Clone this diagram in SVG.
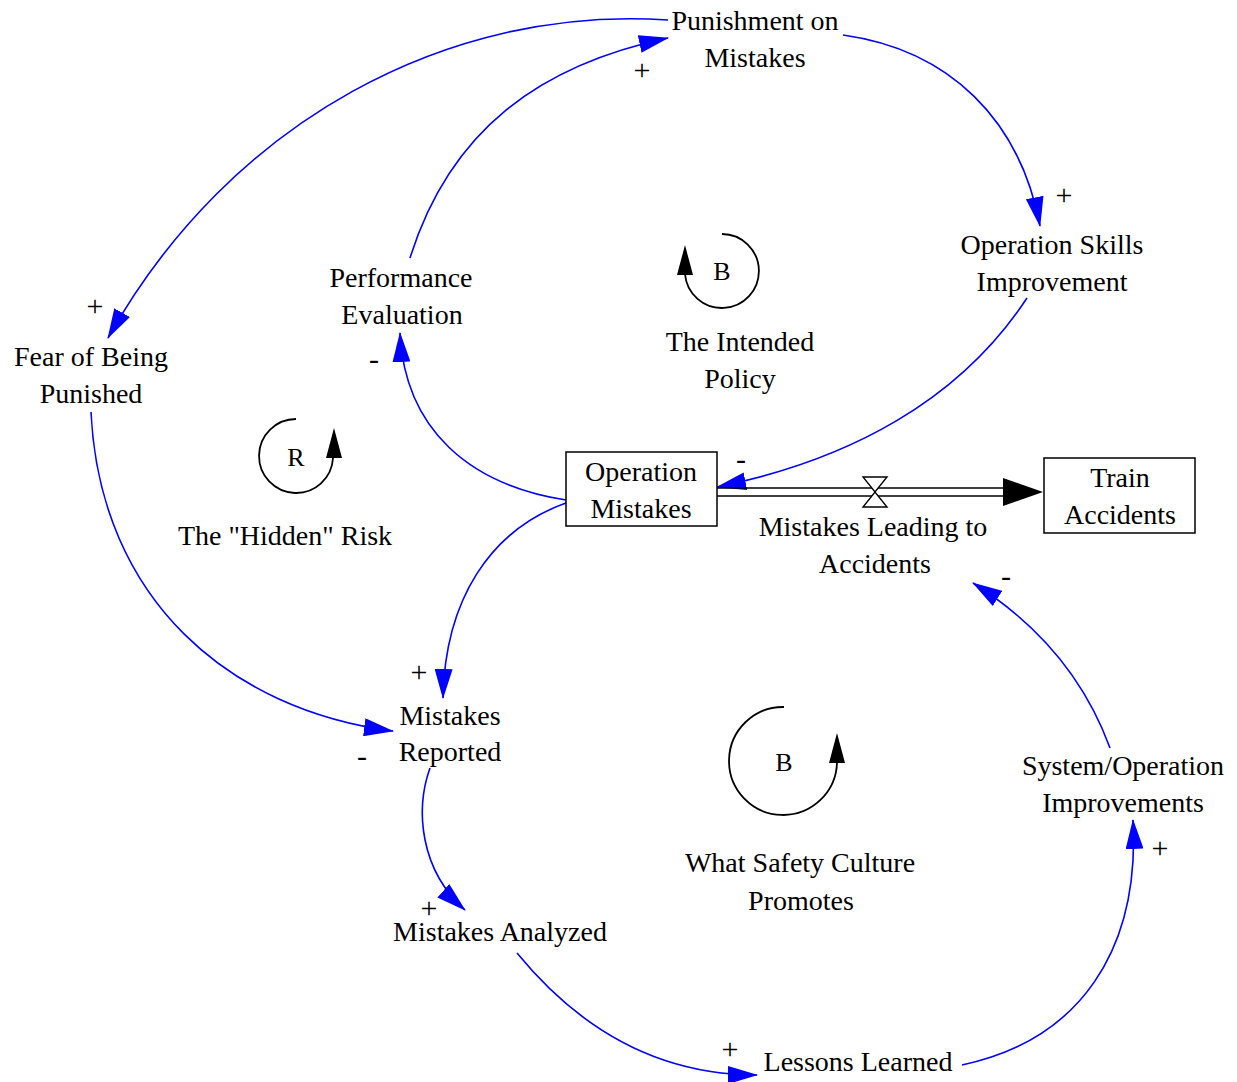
<svg xmlns="http://www.w3.org/2000/svg" width="1237" height="1082" viewBox="0 0 1237 1082" font-family="'Liberation Serif', 'Times New Roman', Tinos, 'DejaVu Serif', serif">
  <style>
    text { font-size: 28px; fill: #000; text-anchor: middle; }
    .pol { font-size: 30px; }
    .link { fill: none; stroke: #0000ff; stroke-width: 1.6; marker-end: url(#ah); }
    .loop { fill: none; stroke: #000; stroke-width: 1.8; }
    .box { fill: #fff; stroke: #000; stroke-width: 1.5; }
  </style>
  <defs>
    <marker id="ah" markerUnits="userSpaceOnUse" viewBox="0 0 30 18" refX="29" refY="9" markerWidth="30" markerHeight="18" orient="auto">
      <path d="M0,0 L30,9 L0,18 z" fill="#0000ff"/>
    </marker>
  </defs>
  <rect width="1237" height="1082" fill="#fff"/>

  <!-- causal links -->
  <g id="connectors">
    <path class="link" d="M668,20 C450,5 230,120 108,338"/>
    <path class="link" d="M410,258 C450,130 540,65 668,38"/>
    <path class="link" d="M843,35 C950,50 1020,120 1040,226"/>
    <path class="link" d="M1027,298 C960,400 850,460 717,487"/>
    <path class="link" d="M566,500 C470,485 405,430 400,333"/>
    <path class="link" d="M566,503 C490,530 445,600 443,698"/>
    <path class="link" d="M91,412 C100,600 230,710 393,731"/>
    <path class="link" d="M430,768 C415,810 420,870 465,910"/>
    <path class="link" d="M517,953 C580,1030 660,1075 757,1075"/>
    <path class="link" d="M962,1065 C1080,1040 1140,950 1133,820"/>
    <path class="link" d="M1110,748 C1085,680 1040,625 973,583"/>

    <!-- flow pipe with valve -->
    <g id="flow">
      <line x1="717" y1="488" x2="1006" y2="488" stroke="#000" stroke-width="1.6"/>
      <line x1="717" y1="496" x2="1006" y2="496" stroke="#000" stroke-width="1.6"/>
      <polygon points="1003,478 1043,492 1003,506" fill="#000"/>
      <polygon points="863,477 887,477 875,492" fill="#fff" stroke="#000" stroke-width="1.4"/>
      <polygon points="863,507 887,507 875,492" fill="#fff" stroke="#000" stroke-width="1.4"/>
    </g>
  </g>

  <!-- polarity signs -->
  <g id="polarities">
    <text class="pol" x="642" y="80">+</text>
    <text class="pol" x="1064" y="205">+</text>
    <text class="pol" x="95" y="316">+</text>
    <text class="pol" x="374" y="369">-</text>
    <text class="pol" x="741" y="469">-</text>
    <text class="pol" x="419" y="682">+</text>
    <text class="pol" x="362" y="766">-</text>
    <text class="pol" x="429" y="918">+</text>
    <text class="pol" x="730" y="1059">+</text>
    <text class="pol" x="1160" y="858">+</text>
    <text class="pol" x="1006" y="586">-</text>
  </g>

  <!-- variables -->
  <g id="punishment"><text x="755" y="30">Punishment on</text><text x="755" y="67">Mistakes</text></g>
  <g id="skills"><text x="1052" y="254">Operation Skills</text><text x="1052" y="291">Improvement</text></g>
  <g id="performance"><text x="401" y="287">Performance</text><text x="402" y="324">Evaluation</text></g>
  <g id="fear"><text x="91" y="366">Fear of Being</text><text x="91" y="403">Punished</text></g>
  <g id="op-mistakes">
    <rect class="box" x="566" y="452" width="151" height="74"/>
    <text x="641" y="481">Operation</text><text x="641" y="518">Mistakes</text>
  </g>
  <g id="train-accidents">
    <rect class="box" x="1044" y="458" width="151" height="75"/>
    <text x="1120" y="487">Train</text><text x="1120" y="524">Accidents</text>
  </g>
  <g id="leading"><text x="873" y="536">Mistakes Leading to</text><text x="875" y="573">Accidents</text></g>
  <g id="reported"><text x="450" y="725">Mistakes</text><text x="450" y="761">Reported</text></g>
  <g id="analyzed"><text x="500" y="941">Mistakes Analyzed</text></g>
  <g id="lessons"><text x="858" y="1071">Lessons Learned</text></g>
  <g id="improvements"><text x="1123" y="775">System/Operation</text><text x="1123" y="812">Improvements</text></g>

  <!-- loop markers -->
  <g id="loop-intended">
    <path class="loop" d="M722,234 A37,37 0 1,1 685,274"/>
    <polygon points="677,275 693,275 685,245" fill="#000"/>
    <text x="722" y="280" style="font-size:26px">B</text>
    <text x="740" y="351">The Intended</text><text x="740" y="388">Policy</text>
  </g>
  <g id="loop-hidden">
    <path class="loop" d="M296,419 A37,37 0 1,0 333,458"/>
    <polygon points="326,458 342,458 334,428" fill="#000"/>
    <text x="296" y="466" style="font-size:26px">R</text>
    <text x="285" y="545">The "Hidden" Risk</text>
  </g>
  <g id="loop-safety">
    <path class="loop" d="M784,707 A54,54 0 1,0 837,763"/>
    <polygon points="829,763 845,763 837,733" fill="#000"/>
    <text x="784" y="771" style="font-size:26px">B</text>
    <text x="800" y="872">What Safety Culture</text><text x="801" y="910">Promotes</text>
  </g>
</svg>
